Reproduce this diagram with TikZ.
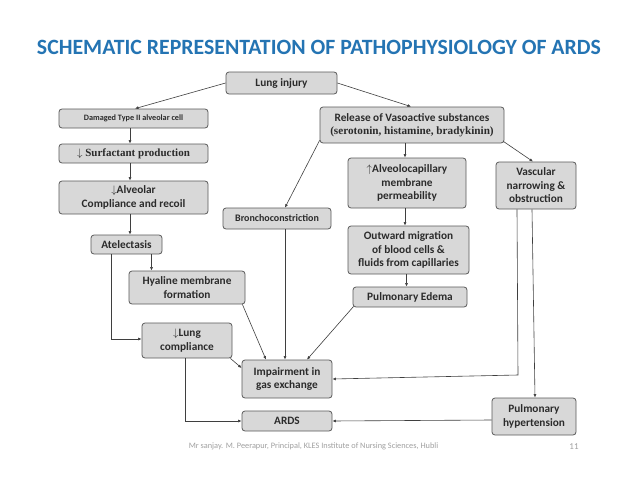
\documentclass[tikz,border=0pt]{standalone}
\usepackage{fontspec}
\setmainfont{Carlito}
\newfontfamily\serifb{Liberation Serif}
\usetikzlibrary{arrows.meta}
\definecolor{titleblue}{HTML}{2474B3}
\definecolor{boxfill}{HTML}{D8D8D8}
\definecolor{boxline}{HTML}{5A5A5A}
\definecolor{txt}{HTML}{2B2B2B}
\definecolor{arrline}{HTML}{3F3F3F}
\definecolor{foot}{HTML}{A0A0A0}
\begin{document}
\begin{tikzpicture}[x=1pt,y=-1pt,
  box/.style={draw=boxline, fill=boxfill, rounded corners=3pt, line width=0.8pt,
    inner sep=0pt, align=center, text=txt, font=\fontsize{11.3}{13.5}\selectfont\bfseries},
  arr/.style={draw=arrline, line width=0.6pt, -{Latex[length=3.5pt,width=3pt]}}]
\useasboundingbox[fill=white] (0,0) rectangle (638,479);

\node[font=\fontsize{21.8}{24}\selectfont\bfseries, text=titleblue] (title) at (319,47) {SCHEMATIC REPRESENTATION OF PATHOPHYSIOLOGY OF ARDS};

\node[box, minimum width=111pt, minimum height=22pt] (li) at (281.5,83) {Lung injury};
\node[box, minimum width=149pt, minimum height=19pt, font=\fontsize{8.2}{10}\selectfont\bfseries] (dam) at (133.5,118.5) {Damaged Type II alveolar cell};
\node[box, minimum width=149pt, minimum height=19pt, font=\fontsize{11}{12}\selectfont\serifb\bfseries] (surf) at (133.5,153.5) {$\downarrow$ Surfactant production};
\node[box, minimum width=149pt, minimum height=33pt] (alv) at (133.5,197.5) {$\downarrow$Alveolar\\Compliance and recoil};
\node[box, minimum width=71pt, minimum height=19pt] (atel) at (126.5,244.5) {Atelectasis};
\node[box, minimum width=108pt, minimum height=21pt, font=\fontsize{10}{12}\selectfont\bfseries] (bron) at (277,218.5) {Bronchoconstriction};
\node[box, minimum width=116pt, minimum height=33pt] (hya) at (187,287.5) {Hyaline membrane\\formation};
\node[box, minimum width=90pt, minimum height=35pt] (lc) at (187,340.5) {$\downarrow$Lung\\compliance};
\node[box, minimum width=90pt, minimum height=38pt] (imp) at (287,379) {Impairment in\\gas exchange};
\node[box, minimum width=90pt, minimum height=20pt] (ards) at (287,421) {ARDS};
\node[box, minimum width=184pt, minimum height=36pt] (rel) at (412,125) {Release of Vasoactive substances\\{\serifb\bfseries\fontsize{11.2}{13.5}\selectfont (serotonin, histamine, bradykinin)}};
\node[box, minimum width=118pt, minimum height=50pt] (alc) at (407,183) {$\uparrow$Alveolocapillary\\membrane\\permeability};
\node[box, minimum width=80pt, minimum height=47pt] (vas) at (536,185.5) {Vascular\\narrowing \&\\obstruction};
\node[box, minimum width=121pt, minimum height=48pt] (out) at (408.5,250) {Outward migration\\of blood cells \&\\fluids from capillaries};
\node[box, minimum width=114pt, minimum height=20pt] (ede) at (410,297) {Pulmonary Edema};
\node[box, minimum width=84pt, minimum height=37pt] (ph) at (534,416.5) {Pulmonary\\hypertension};

\node[font=\fontsize{8.3}{10}\selectfont, text=foot] (footer) at (313.5,446.5) {Mr sanjay. M. Peerapur, Principal, KLES Institute of Nursing Sciences, Hubli};
\node[font=\fontsize{9}{10}\selectfont, text=foot] (pg) at (574,446.5) {11};

\coordinate (vc) at (518,375);

\draw[arr] (li.west) -- ([xshift=1.5pt]dam.north);
\draw[arr] (li.east) -- ([xshift=-1pt]rel.north);
\draw[arr] ([xshift=-3.5pt]dam.south) -- ([xshift=-3.5pt]surf.north);
\draw[arr] ([xshift=-3.5pt]surf.south) -- ([xshift=-3.5pt]alv.north);
\draw[arr] ([xshift=-3.5pt]alv.south) -- ([xshift=-3.5pt]alv.south |- atel.north);
\draw[arr] ([xshift=25pt]atel.south) -- ([xshift=25pt]atel.south |- hya.north);
\draw[arr] ([xshift=-15pt]atel.south) |- ([yshift=1.5pt]lc.west);
\draw[arr] ([xshift=-3pt]hya.south east) -- ([xshift=-21pt]imp.north);
\draw[arr] ([xshift=8pt]bron.south) -- ([xshift=8pt]bron.south |- imp.north);
\draw[arr] ([xshift=1pt,yshift=1pt]ede.south west) -- ([xshift=20pt]imp.north);
\draw[arr] ([xshift=-2pt]lc.south east) -- ([yshift=11pt]imp.west);
\draw[arr] ([xshift=-2pt]lc.south) |- (ards.west);
\draw[arr] ([yshift=3pt]rel.south west) -- ([xshift=8pt]bron.north);
\draw[arr] ([xshift=-7pt]rel.south) -- ([xshift=-7pt]rel.south |- alc.north);
\draw[arr] ([xshift=-1pt,yshift=2pt]rel.south east) -- ([xshift=-3pt]vas.north);
\draw[arr] ([xshift=-2pt]alc.south) -- ([xshift=-2pt]alc.south |- out.north);
\draw[arr] ([xshift=-2pt]out.south) -- ([xshift=-2pt]out.south |- ede.north);
\draw[arr] ([xshift=-19pt]vas.south) -- (vc) -- (imp.east);
\draw[arr] ([xshift=-4pt]vas.south) -- ([xshift=1pt]ph.north);
\draw[arr] ([yshift=-3.5pt]ph.west) -- (ards.east);
\end{tikzpicture}
\end{document}
